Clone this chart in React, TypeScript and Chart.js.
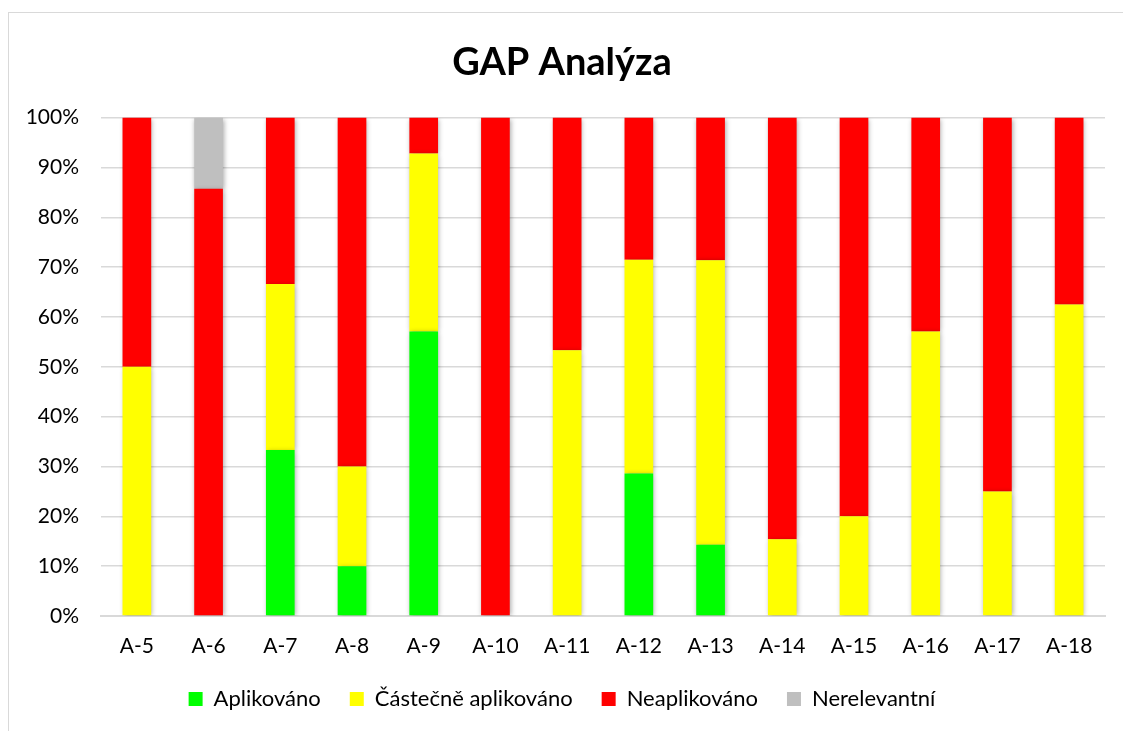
import React, { useEffect, useRef } from "react";
import { Chart, registerables } from "chart.js";

Chart.register(...registerables);

const categories = ["A-5", "A-6", "A-7", "A-8", "A-9", "A-10", "A-11", "A-12", "A-13", "A-14", "A-15", "A-16", "A-17", "A-18"];
const aplikovano = [0, 0, 33.3, 10, 57.1, 0, 0, 28.6, 14.3, 0, 0, 0, 0, 0];
const castecne = [50, 0, 33.3, 20, 35.7, 0, 53.3, 42.9, 57.1, 15.4, 20, 57.1, 25, 62.5];
const neaplikovano = [50, 85.7, 33.4, 70, 7.2, 100, 46.7, 28.5, 28.6, 84.6, 80, 42.9, 75, 37.5];
const nerelevantni = [0, 14.3, 0, 0, 0, 0, 0, 0, 0, 0, 0, 0, 0, 0];
const yTicks = [0, 10, 20, 30, 40, 50, 60, 70, 80, 90, 100];

const FONT = "Lato, 'Open Sans', sans-serif";

export default function App() {
  const ref = useRef<HTMLCanvasElement | null>(null);
  useEffect(() => {
    if (!ref.current) return;
    const shadow = {
      id: "barShadow",
      beforeDatasetsDraw(chart: any) {
        const ctx = chart.ctx;
        ctx.save();
        ctx.shadowColor = "rgba(0,0,0,0.35)";
        ctx.shadowBlur = 5;
        ctx.shadowOffsetX = 1;
        ctx.shadowOffsetY = 1;
      },
      afterDatasetsDraw(chart: any) {
        chart.ctx.restore();
      },
    };
    const mk = (label: string, data: number[], color: string) => ({
      label,
      data,
      backgroundColor: color,
      borderWidth: 0,
      barPercentage: 0.4,
      categoryPercentage: 1,
    });
    const chart = new Chart(ref.current, {
      type: "bar",
      data: {
        labels: categories,
        datasets: [
          mk("Aplikováno", aplikovano, "#00ff00"),
          mk("Částečně aplikováno", castecne, "#ffff00"),
          mk("Neaplikováno", neaplikovano, "#ff0000"),
          mk("Nerelevantní", nerelevantni, "#bfbfbf"),
        ],
      },
      plugins: [shadow],
      options: {
        animation: false,
        responsive: true,
        maintainAspectRatio: false,
        layout: { padding: { left: 10, right: 18, top: 27, bottom: 11 } },
        plugins: {
          title: {
            display: true,
            text: "GAP Analýza",
            color: "#000",
            font: { family: FONT, size: 38, weight: "bold" },
            padding: { top: 0, bottom: 32 },
          },
          legend: {
            position: "bottom",
            labels: {
              color: "#000",
              font: { family: FONT, size: 22 },
              boxWidth: 14,
              boxHeight: 14,
              padding: 29,
            },
          },
          tooltip: { enabled: false },
        },
        scales: {
          x: {
            stacked: true,
            afterFit: (s: any) => { s.height = 43; },
            grid: { display: false, drawTicks: false },
            border: { display: true, color: "#d9d9d9", width: 2 },
            ticks: { color: "#000", font: { family: FONT, size: 21 }, padding: 18, maxRotation: 0 },
          },
          y: {
            stacked: true,
            min: 0,
            max: 100,
            afterFit: (s: any) => { s.width = 82; },
            afterBuildTicks: (s: any) => { s.ticks = yTicks.map((v) => ({ value: v })); },
            grid: { color: "#d9d9d9", lineWidth: 1.5, drawTicks: false },
            border: { display: false },
            ticks: {
              color: "#000",
              font: { family: FONT, size: 21 },
              padding: 22,
              callback: (v: any) => v + "%",
            },
          },
        },
      },
    });
    return () => chart.destroy();
  }, []);
  return (
    <div
      style={{
        position: "absolute",
        left: 8,
        top: 12,
        width: 1115,
        height: 719,
        borderLeft: "1px solid #d9d9d9",
        borderTop: "1px solid #d9d9d9",
        background: "#fff",
        boxSizing: "border-box",
      }}
    >
      <canvas ref={ref} />
    </div>
  );
}
